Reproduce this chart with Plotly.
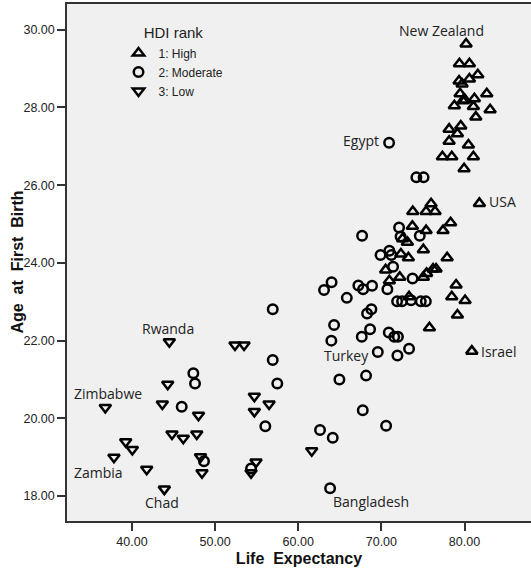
import plotly.graph_objects as go

# ---- data ----
high_x = [80.19, 79.39, 80.59, 81.60, 80.59, 79.35, 79.71, 82.68, 79.47, 79.80, 80.07, 81.19,
          78.78, 81.07, 83.08, 81.36, 78.15, 79.55, 79.15, 78.15, 80.47, 77.34, 78.47, 81.07,
          79.95, 81.79, 73.78, 75.98, 75.38, 76.46, 78.33, 73.73, 75.38, 77.42, 72.55, 73.13,
          75.05, 72.35, 73.25, 77.91, 70.51, 75.44, 76.22, 76.58, 75.05, 72.21, 70.96, 78.99,
          78.47, 80.07, 73.33, 79.15, 75.78, 80.88]
high_y = [29.63, 29.12, 29.12, 28.84, 28.73, 28.68, 28.60, 28.35, 28.35, 28.17, 28.19, 28.22,
          28.04, 28.02, 27.94, 27.75, 27.44, 27.52, 27.32, 27.13, 27.03, 26.73, 26.73, 26.73,
          26.42, 25.53, 25.32, 25.52, 25.32, 25.32, 25.03, 24.94, 24.83, 24.83, 24.62, 24.53,
          24.34, 24.23, 24.13, 24.13, 23.82, 23.73, 23.84, 23.84, 23.63, 23.63, 23.54, 23.43,
          23.13, 23.03, 23.13, 22.66, 22.33, 21.73]

mod_x = [70.93, 74.21, 75.08, 67.68, 72.13, 72.31, 74.62, 69.90, 70.96, 71.20, 71.41, 73.75,
         63.10, 64.01, 67.23, 67.80, 68.88, 70.72, 65.84, 71.89, 72.49, 74.74, 75.35, 73.57,
         68.28, 68.80, 64.31, 63.98, 67.64, 68.64, 70.89, 71.55, 71.99, 73.33, 69.57, 71.93,
         56.93, 56.93, 57.48, 64.95, 68.16, 67.76, 70.57, 62.62, 64.15, 63.83, 56.04, 47.38,
         47.58, 45.98, 48.66, 54.32]
mod_y = [27.09, 26.20, 26.20, 24.70, 24.91, 24.68, 24.70, 24.20, 24.31, 24.20, 23.90, 23.60,
         23.30, 23.50, 23.42, 23.32, 23.41, 23.32, 23.10, 23.01, 23.01, 23.01, 23.01, 23.04,
         22.70, 22.81, 22.40, 22.00, 22.10, 22.29, 22.21, 22.10, 22.10, 21.79, 21.71, 21.62,
         22.81, 21.50, 20.90, 21.00, 21.10, 20.21, 19.81, 19.70, 19.50, 18.20, 19.80, 21.16,
         20.90, 20.30, 18.90, 18.71]

low_x = [44.49, 44.30, 36.79, 43.65, 48.00, 39.24, 40.04, 44.81, 46.17, 47.79, 37.83, 41.77,
         48.24, 48.42, 43.89, 52.39, 53.48, 54.72, 56.49, 54.72, 54.92, 54.32, 61.62]
low_y = [21.97, 20.88, 20.28, 20.37, 20.08, 19.40, 19.20, 19.60, 19.49, 19.60, 19.00, 18.69,
         19.01, 18.60, 18.18, 21.89, 21.89, 20.57, 20.37, 20.18, 18.88, 18.60, 19.17]

label_text = ["New Zealand", "Egypt", "USA", "Israel", "Turkey", "Rwanda", "Zimbabwe",
              "Zambia", "Chad", "Bangladesh"]
label_x = [77.18, 67.56, 84.58, 84.10, 65.75, 44.39, 37.17, 35.91, 43.60, 68.76]
label_y = [29.99, 27.14, 25.59, 21.71, 21.63, 22.32, 20.63, 18.62, 17.83, 17.85]

x_ticks = [40, 50, 60, 70, 80]
y_ticks = [18, 20, 22, 24, 26, 28, 30]

AX_FONT = "Liberation Sans, Arial, sans-serif"
LBL_FONT = "Open Sans, sans-serif"

fig = go.Figure()
fig.add_trace(go.Scatter(x=high_x, y=high_y, mode="markers", name="1: High",
                         marker=dict(symbol="triangle-up-open", size=10, color="black",
                                     line=dict(width=2.5, color="black"))))
fig.add_trace(go.Scatter(x=mod_x, y=mod_y, mode="markers", name="2: Moderate",
                         marker=dict(symbol="circle-open", size=9.5, color="black",
                                     line=dict(width=2.5, color="black"))))
fig.add_trace(go.Scatter(x=low_x, y=low_y, mode="markers", name="3: Low",
                         marker=dict(symbol="triangle-down-open", size=10, color="black",
                                     line=dict(width=2.5, color="black"))))

for t, lx, ly in zip(label_text, label_x, label_y):
    fig.add_annotation(x=lx, y=ly, text=t, showarrow=False, xanchor="center", yanchor="middle",
                       font=dict(family=LBL_FONT, size=14, color="#222"))

# y-axis title placed as a rotated annotation for exact positioning
fig.add_annotation(x=0, y=0.5, xref="paper", yref="paper", xanchor="center", yanchor="middle",
                   xshift=-50, textangle=-90, showarrow=False,
                   text="<b>Age\u00a0 at\u00a0 First\u00a0 Birth</b>",
                   font=dict(family=AX_FONT, size=16, color="#111"))

fig.update_layout(
    width=531, height=574,
    margin=dict(l=67, r=0, t=4, b=53),
    paper_bgcolor="white",
    plot_bgcolor="#f0f0f0",
    showlegend=True,
    legend=dict(
        x=0.111, y=0.971, xanchor="left", yanchor="top",
        bgcolor="rgba(0,0,0,0)",
        font=dict(family=AX_FONT, size=12, color="#222"),
        title=dict(text="HDI rank", side="top center",
                   font=dict(family=AX_FONT, size=15, color="#222")),
        tracegroupgap=0, itemwidth=30,
    ),
    xaxis=dict(
        range=[32.18, 88.0], tickvals=x_ticks, ticktext=[f"{v:.2f}" for v in x_ticks],
        showgrid=False, zeroline=False, showline=True, linecolor="#333", linewidth=1.5,
        mirror=True, ticks="outside", ticklen=8, tickcolor="#333", tickwidth=1.5,
        tickfont=dict(family=AX_FONT, size=12.5, color="#222"),
        title=dict(text="Life\u00a0 Expectancy", standoff=5,
                   font=dict(family=AX_FONT, size=16, color="#111", weight="bold")),
        automargin=False,
    ),
    yaxis=dict(
        range=[17.36, 30.66], tickvals=y_ticks, ticktext=[f"{v:.2f}" for v in y_ticks],
        showgrid=False, zeroline=False, showline=True, linecolor="#333", linewidth=1.5,
        mirror=False, ticks="outside", ticklen=8, tickcolor="#333", tickwidth=1.5,
        tickfont=dict(family=AX_FONT, size=12.5, color="#222"),
        automargin=False,
    ),
)

fig.write_html("out.html", config={"displayModeBar": False},
               post_script="document.body.style.margin='0';")
